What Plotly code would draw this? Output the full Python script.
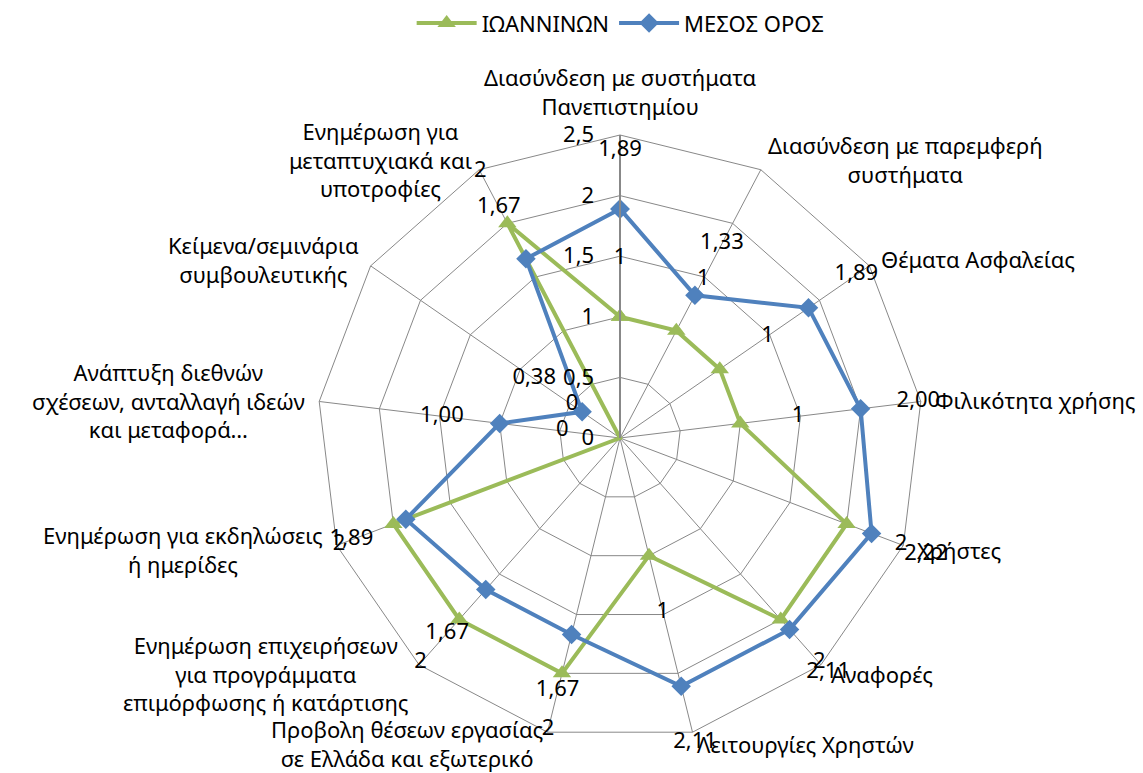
import math
import plotly.graph_objects as go

categories = [
    "Διασύνδεση με συστήματα<br>Πανεπιστημίου",
    "Διασύνδεση με παρεμφερή<br>συστήματα",
    "Θέματα Ασφαλείας",
    "Φιλικότητα χρήσης",
    "Χρήστες",
    "Αναφορές",
    "Λειτουργίες Χρηστών",
    "Προβολη θέσεων εργασίας<br>σε Ελλάδα και εξωτερικό",
    "Ενημέρωση επιχειρήσεων<br>για προγράμματα<br>επιμόρφωσης ή κατάρτισης",
    "Ενημέρωση για εκδηλώσεις<br>ή ημερίδες",
    "Ανάπτυξη διεθνών<br>σχέσεων, ανταλλαγή ιδεών<br>και μεταφορά…",
    "Κείμενα/σεμινάρια<br>συμβουλευτικής",
    "Ενημέρωση για<br>μεταπτυχιακά και<br>υποτροφίες",
]
ioannina = [1, 1, 1, 1, 2, 2, 1, 2, 2, 2, 0, 0, 2]
ioannina_labels = ["1", "1", "1", "1", "2", "2", "1", "2", "2", "2", "0", "0", "2"]
mesos = [1.89, 1.33, 1.89, 2.00, 2.22, 2.11, 2.11, 1.67, 1.67, 1.89, 1.00, 0.38, 1.67]
mesos_labels = ["1,89", "1,33", "1,89", "2,00", "2,22", "2,11", "2,11", "1,67", "1,67", "1,89", "1,00", "0,38", "1,67"]
radial_ticks = [0, 0.5, 1, 1.5, 2, 2.5]
radial_ticklabels = ["0", "0,5", "1", "1,5", "2", "2,5"]

cats_closed = categories + [categories[0]]

GREEN = "#9BBB59"
BLUE = "#4F81BD"
GRID = "#888888"
FONT = "Noto Sans"
FS_CAT = 22
FS_LBL = 22
LABEL_OFFSET = 0.48
RMAX = 2.5
K = 1.1   # overlay polar (for data labels) is K times larger, same scale

fig = go.Figure()
fig.add_trace(go.Scatterpolar(
    r=ioannina + [ioannina[0]], theta=cats_closed, mode="lines+markers",
    name="ΙΩΑΝΝΙΝΩΝ", line=dict(color=GREEN, width=4),
    marker=dict(symbol="triangle-up", size=16, color=GREEN),
))
fig.add_trace(go.Scatterpolar(
    r=mesos + [mesos[0]], theta=cats_closed, mode="lines+markers",
    name="ΜΕΣΟΣ ΟΡΟΣ", line=dict(color=BLUE, width=4),
    marker=dict(symbol="diamond", size=15, color=BLUE),
))
fig.add_trace(go.Scatterpolar(
    r=[v + LABEL_OFFSET for v in ioannina], theta=categories, mode="text",
    text=ioannina_labels, textfont=dict(family=FONT, size=FS_LBL, color="black"),
    showlegend=False, cliponaxis=False, hoverinfo="skip", subplot="polar2",
))
fig.add_trace(go.Scatterpolar(
    r=[v + LABEL_OFFSET for v in mesos], theta=categories, mode="text",
    text=mesos_labels, textfont=dict(family=FONT, size=FS_LBL, color="black"),
    showlegend=False, cliponaxis=False, hoverinfo="skip", subplot="polar2",
))

W, H = 1143, 773
cx, cy, R = 620, 438, 303      # centre / radius in pixels
R2 = R * K

# category labels placed just outside each polygon vertex
annotations = []
n = len(categories)
for i, cat in enumerate(categories):
    a = math.radians(i * 360.0 / n)
    s, c = math.sin(a), math.cos(a)
    rl = R + 12
    px = cx + rl * s
    py = cy - rl * c
    if s > 0.1:
        xa = "left"
    elif s < -0.1:
        xa = "right"
    else:
        xa = "center"
    ya = "bottom" if c > 0.95 else "middle"
    annotations.append(dict(
        x=px / W, y=1 - py / H, xref="paper", yref="paper",
        text=cat, showarrow=False, xanchor=xa, yanchor=ya,
        align="center", font=dict(family=FONT, size=FS_CAT, color="black"),
    ))

hidden_ang = dict(type="category", categoryorder="array", categoryarray=categories,
                  direction="clockwise", rotation=90, visible=False,
                  showgrid=False, showline=False, showticklabels=False, ticks="")

fig.update_layout(
    width=W, height=H,
    margin=dict(l=0, r=0, t=0, b=0),
    paper_bgcolor="white", plot_bgcolor="white",
    font=dict(family=FONT, size=FS_LBL, color="black"),
    showlegend=True,
    legend=dict(orientation="h", x=0.543, xanchor="center", y=0.997, yanchor="top",
                font=dict(size=22), itemwidth=60),
    annotations=annotations,
    polar=dict(
        domain=dict(x=[(cx - R) / W, (cx + R) / W], y=[(H - cy - R) / H, (H - cy + R) / H]),
        gridshape="linear",
        bgcolor="white",
        angularaxis=dict(
            type="category", categoryorder="array", categoryarray=categories,
            direction="clockwise", rotation=90, showticklabels=False,
            showgrid=True, gridcolor=GRID, gridwidth=1,
            showline=True, linecolor=GRID, linewidth=1, ticks="",
        ),
        radialaxis=dict(
            range=[0, RMAX], angle=90, tickangle=90,
            tickmode="array", tickvals=radial_ticks,
            ticktext=[t + "\u00a0" * 3 for t in radial_ticklabels],
            showgrid=True, gridcolor=GRID, gridwidth=1,
            showline=True, linecolor=GRID, linewidth=2, ticks="",
            side="counterclockwise", tickfont=dict(size=FS_LBL),
        ),
    ),
    polar2=dict(
        domain=dict(x=[(cx - R2) / W, (cx + R2) / W], y=[(H - cy - R2) / H, (H - cy + R2) / H]),
        gridshape="linear",
        bgcolor="rgba(0,0,0,0)",
        angularaxis=hidden_ang,
        radialaxis=dict(range=[0, RMAX * K], visible=False, showgrid=False,
                        showline=False, showticklabels=False, ticks=""),
    ),
)
fig.write_html("out.html", post_script="document.body.style.margin='0';",
               config={"displayModeBar": False})
